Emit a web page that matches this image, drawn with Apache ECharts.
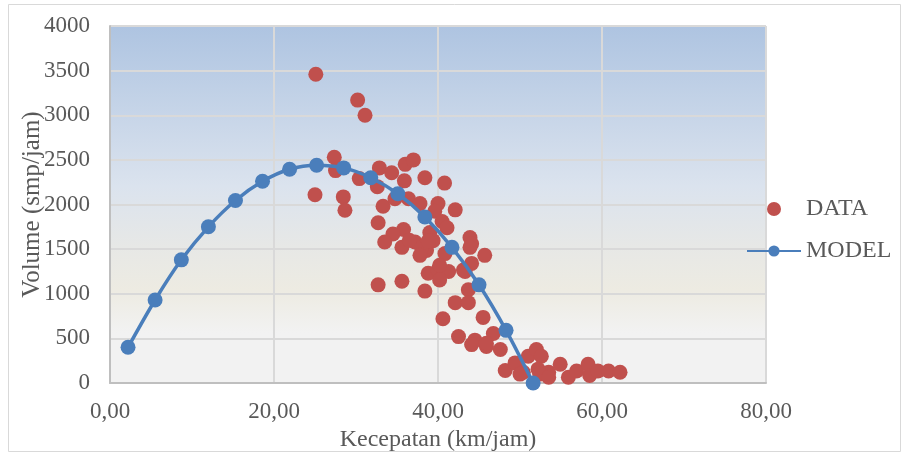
<!DOCTYPE html>
<html>
<head>
<meta charset="utf-8">
<script src="https://cdn.jsdelivr.net/npm/echarts@6/dist/echarts.min.js"></script>
<style>
html,body{margin:0;padding:0;background:#fff;}
#chart{width:907px;height:457px;}
</style>
</head>
<body>
<div id="chart"></div>
<script>
// Observed data (speed km/jam, volume smp/jam)
var dataX = [25.1,30.2,31.1,27.35,27.5,25.0,28.45,28.65,30.4,32.85,34.35,32.6,36.0,37.0,35.9,38.4,40.8,
  33.3,34.75,36.4,37.8,40.0,39.6,42.1,32.7,40.5,41.1,35.8,34.5,33.5,37.2,39.0,39.4,43.9,44.1,35.6,38.6,38.0,38.8,
  40.85,43.9,45.7,44.1,43.1,38.8,40.0,41.3,40.2,40.2,43.3,36.5,37.8,
  32.7,35.6,38.4,43.7,42.1,43.7,40.6,45.5,46.75,42.5,44.5,44.1,45.9,45.9,47.6,
  48.2,49.4,50.4,51.0,52.0,52.6,52.2,53.5,54.9,55.9,56.9,58.3,58.5,59.5,60.8,62.2,50.0,52.4,53.5];
var dataY = [3460,3170,3000,2530,2380,2110,2085,1935,2290,2410,2355,2200,2450,2500,2265,2300,2240,
  1980,2065,2065,2010,2010,1925,1940,1795,1810,1740,1720,1670,1580,1580,1685,1595,1630,1560,1520,1485,1520,1590,
  1450,1520,1430,1340,1265,1230,1265,1250,1320,1155,1250,1600,1430,
  1100,1140,1030,1045,900,900,720,735,555,520,480,430,410,445,375,
  140,225,120,300,375,300,155,120,210,65,135,210,85,135,135,120,100,100,65];
// Model curve
var modelX = [2.2,5.5,8.7,12.0,15.3,18.6,21.9,25.2,28.5,31.8,35.1,38.4,41.7,45.0,48.3,51.6];
var modelY = [400,930,1380,1750,2045,2260,2395,2440,2410,2300,2120,1860,1520,1100,590,0];
var seriesNames = ['DATA','MODEL'];
var xTitle = 'Kecepatan (km/jam)';
var yTitle = 'Volume (smp/jam)';

var scatterPts = dataX.map(function(x,i){return [x,dataY[i]];});
var modelPts = modelX.map(function(x,i){return [x,modelY[i]];});

var font = 'Liberation Serif';
var txt = '#595959';
var chart = echarts.init(document.getElementById('chart'), null, {renderer:'canvas'});
chart.setOption({
  animation:false,
  backgroundColor:'#ffffff',
  graphic:[{type:'rect',shape:{x:8.5,y:4.5,width:892,height:447},style:{fill:'none',stroke:'#d9d9d9',lineWidth:1}}],
  grid:{left:110,top:26,right:141,bottom:64.5,show:true,borderWidth:0,
    backgroundColor:new echarts.graphic.LinearGradient(0,0,0,1,[
      {offset:0,color:'#aec4e1'},
      {offset:0.45,color:'#dbe3ee'},
      {offset:0.62,color:'#e7e8e6'},
      {offset:0.74,color:'#edebe2'},
      {offset:0.86,color:'#f2f2f2'},
      {offset:1,color:'#f2f2f2'}])},
  legend:{orient:'vertical',left:741,top:192,itemWidth:54,itemHeight:14,itemGap:18,
    textStyle:{fontFamily:font,fontSize:24,color:txt},
    data:[{name:seriesNames[0],icon:'circle'},{name:seriesNames[1]}]},
  xAxis:{type:'value',min:0,max:80,interval:20,
    name:xTitle,nameLocation:'middle',nameGap:45,nameMoveOverlap:false,
    nameTextStyle:{fontFamily:font,fontSize:24,color:txt},
    axisLine:{show:true,lineStyle:{color:'#bfbfbf',width:2}},
    axisTick:{show:false},
    axisLabel:{fontFamily:font,fontSize:23,color:txt,margin:17,
      formatter:function(v){return v.toFixed(2).replace('.',',');}},
    splitLine:{show:true,lineStyle:{color:'#d9d9d9',width:2}}},
  yAxis:{type:'value',min:0,max:4000,interval:500,
    name:yTitle,nameLocation:'middle',nameGap:65,nameMoveOverlap:false,
    nameTextStyle:{fontFamily:font,fontSize:25,color:txt},
    axisLine:{show:true,lineStyle:{color:'#bfbfbf',width:2}},
    axisTick:{show:false},
    axisLabel:{fontFamily:font,fontSize:23,color:txt,margin:20,
      formatter:function(v){return String(v);}},
    splitLine:{show:true,lineStyle:{color:'#d9d9d9',width:2}}},
  series:[
    {name:seriesNames[0],type:'scatter',data:scatterPts,symbol:'circle',symbolSize:15,
      itemStyle:{color:'#c0504d',opacity:1}},
    {name:seriesNames[1],type:'line',data:modelPts,smooth:0.3,symbol:'circle',symbolSize:15,showAllSymbol:true,
      lineStyle:{color:'#4a7ebb',width:3.5},itemStyle:{color:'#4a7ebb'},z:3}
  ]
});
</script>
</body>
</html>
